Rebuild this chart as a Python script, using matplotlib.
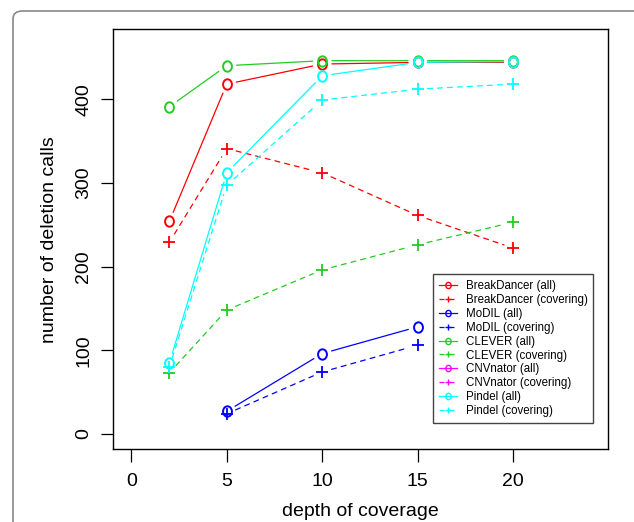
import numpy as np
import matplotlib
matplotlib.use('Agg')
import matplotlib.pyplot as plt
from matplotlib.path import Path
from matplotlib.lines import Line2D
from matplotlib.patches import FancyBboxPatch

plt.rcParams['font.family'] = ['Liberation Sans', 'DejaVu Sans']

# data
depth = [2, 5, 10, 15, 20]
breakdancer_all = [254, 418, 442, 444, 444]
breakdancer_cov = [229, 341, 312, 261, 222]
modil_depth = [5, 10, 15]
modil_all = [27, 96, 128]
modil_cov = [24, 74, 106]
clever_all = [391, 440, 446, 446, 446]
clever_cov = [73, 148, 196, 226, 253]
cnvnator_depth = []
cnvnator_all = []
cnvnator_cov = []
pindel_all = [85, 312, 428, 444, 445]
pindel_cov = [80, 297, 399, 412, 418]

xticks = [0, 5, 10, 15, 20]
yticks = [0, 100, 200, 300, 400]

red = '#ff0000'
blue = '#0000ff'
green = '#22cc22'
magenta = '#ff00ff'
cyan = '#00ffff'

# letter-like "o" marker
circ = Path.unit_circle()
o_mark = Path(circ.vertices * np.array([0.85, 1.0]), circ.codes)

fig = plt.figure(figsize=(6.34, 5.22), dpi=100)
ax = fig.add_axes([0.178, 0.139, 0.781, 0.805])

handles = []

def add(x, y, col, covering, label):
    # R type="b": points, joined by lines that stop short of each point
    ls = (0, (4, 4)) if covering else '-'
    for i in range(len(x) - 1):
        ax.annotate('', xy=(x[i + 1], y[i + 1]), xytext=(x[i], y[i]),
                    arrowprops=dict(arrowstyle='-', color=col, lw=0.9,
                                    linestyle=ls, shrinkA=7, shrinkB=7))
    if covering:
        mk = dict(marker='+', markersize=8, markeredgewidth=1.3)
    else:
        mk = dict(marker=o_mark, markersize=7.5, markerfacecolor='none',
                  markeredgewidth=1.4)
    ax.plot(x, y, linestyle='none', color=col, **mk)
    hmk = dict(mk)
    hmk['markersize'] = mk['markersize'] * 0.6
    hmk['markeredgewidth'] = 1.0
    handles.append(Line2D([], [], color=col, lw=0.9, linestyle=ls,
                          label=label, **hmk))

add(depth, breakdancer_all, red, False, 'BreakDancer (all)')
add(depth, breakdancer_cov, red, True, 'BreakDancer (covering)')
add(modil_depth, modil_all, blue, False, 'MoDIL (all)')
add(modil_depth, modil_cov, blue, True, 'MoDIL (covering)')
add(depth, clever_all, green, False, 'CLEVER (all)')
add(depth, clever_cov, green, True, 'CLEVER (covering)')
add(cnvnator_depth, cnvnator_all, magenta, False, 'CNVnator (all)')
add(cnvnator_depth, cnvnator_cov, magenta, True, 'CNVnator (covering)')
add(depth, pindel_all, cyan, False, 'Pindel (all)')
add(depth, pindel_cov, cyan, True, 'Pindel (covering)')

ax.set_xlim(-0.96, 24.96)
ax.set_ylim(-18.6, 483.6)
ax.set_xticks(xticks)
ax.set_yticks(yticks)
ax.tick_params(axis='both', direction='out', length=9, width=0.9,
               labelsize=14, pad=6)
ax.tick_params(axis='x', pad=8)
ax.tick_params(axis='y', labelrotation=90)
for lab in ax.get_yticklabels():
    lab.set_va('center')
for s in ax.spines.values():
    s.set_linewidth(1.0)

ax.set_xlabel('depth of coverage', fontsize=14, labelpad=9)
ax.set_ylabel('number of deletion calls', fontsize=14, labelpad=12)

leg = ax.legend(handles=handles, loc='lower right',
                bbox_to_anchor=(0.970, 0.0626), borderaxespad=0,
                fontsize=8.3, handlelength=1.6, labelspacing=0.17,
                handletextpad=0.7, numpoints=1, fancybox=False,
                framealpha=1, edgecolor='#444444', borderpad=0.5)
leg.get_frame().set_linewidth(1.0)

# rounded outer frame, running off the bottom and right edges
frame = FancyBboxPatch((13 / 634, -0.1), 1.2, 1.1 - 11 / 522,
                       boxstyle='round,pad=0,rounding_size=0.015',
                       transform=fig.transFigure, facecolor='none',
                       edgecolor='#888888', linewidth=1.2, zorder=-1)
fig.patches.append(frame)

fig.savefig('out.png', dpi=100)
